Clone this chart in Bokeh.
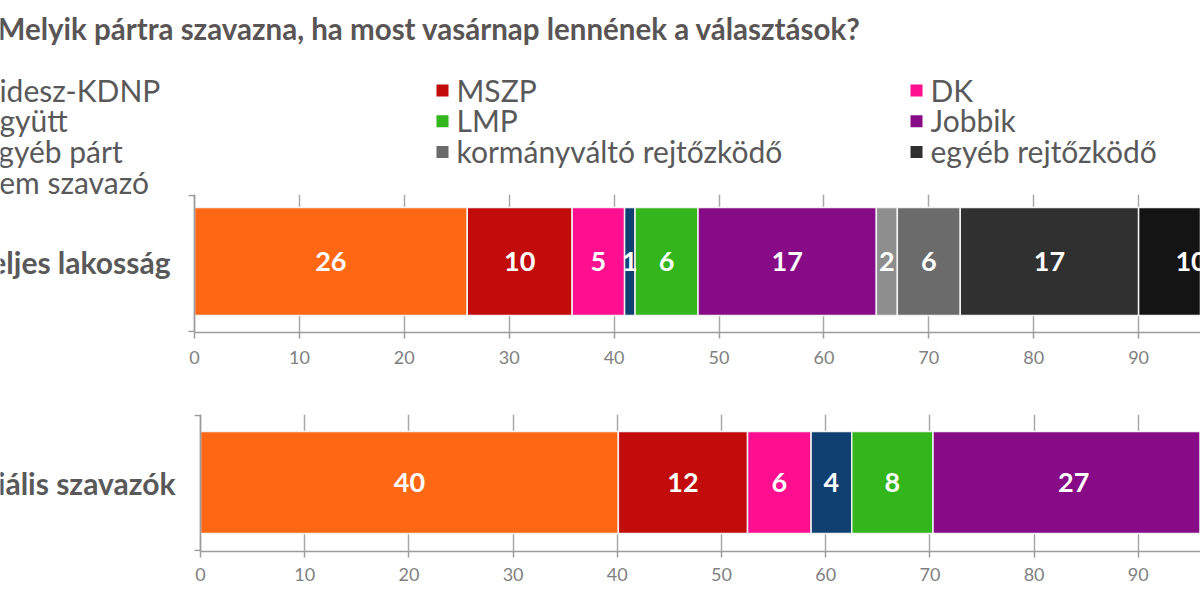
import numpy as np
from bokeh.plotting import figure
from bokeh.layouts import column
from bokeh.models import (Range1d, ColumnDataSource, SingleIntervalTicker, Span)
from bokeh.core.properties import value
from bokeh.embed import file_html
from bokeh.resources import INLINE

# ---------------- data ----------------
title_text = "Melyik pártra szavazna, ha most vasárnap  lennének a választások?"
parties = ["Fidesz-KDNP", "MSZP", "DK", "Együtt", "LMP", "Jobbik",
           "egyéb párt", "kormányváltó rejtőzködő", "egyéb rejtőzködő", "nem szavazó"]
colors = ["#fe6714", "#c20b0b", "#fd0f8f", "#103f72", "#32b61c", "#870a86",
          "#8e8e8e", "#6b6b6b", "#303030", "#141414"]
categories = ["Teljes lakosság", "Potenciális szavazók"]
teljes_lakossag = [26, 10, 5, 1, 6, 17, 2, 6, 17, 10]
potencialis_szavazok = [40.1, 12.4, 6.1, 3.9, 7.8, 27.0, 2.7, 0, 0, 0]
tick_interval = 10
axis_max = 100

W = 1200
FONT = "Lato"
GRAY_TXT = "#595959"
AXIS_GRAY = "#9c9c9c"


def bare_figure(height, xr, yr, **kw):
    p = figure(width=W, height=height, x_range=xr, y_range=yr,
               min_border_left=0, min_border_right=0,
               x_axis_location=kw.pop("x_axis_location", None),
               y_axis_location=None, toolbar_location=None,
               output_backend="svg", outline_line_color=None,
               background_fill_color="white", border_fill_color="white", **kw)
    return p


# ---------------- header: title + legend ----------------
HH = 194
head = bare_figure(HH, Range1d(0, W), Range1d(HH, 0), min_border_top=0,
                   min_border_bottom=0)
head.xgrid.visible = False
head.ygrid.visible = False
head.text(x=[-3], y=[27.5], text=[title_text], text_font=value(FONT),
          text_font_style="bold", text_font_size="29.5px", text_color="#5a5555",
          text_baseline="middle")

col_x0, col_dx, row_y0, row_dy = -18, 474, 89, 30.8
idx = np.arange(len(parties))
tx = col_x0 + (idx % 3) * col_dx
ty = row_y0 + (idx // 3) * row_dy
leg = ColumnDataSource(dict(tx=tx, ty=ty, mx=tx - 14, my=ty + 1,
                            name=parties, color=colors))
head.scatter(x="mx", y="my", marker="square", size=12, color="color",
             line_color=None, source=leg)
head.text(x="tx", y="ty", text="name", source=leg, text_font=value(FONT),
          text_font_size="30px", text_color=GRAY_TXT, text_baseline="middle")


# ---------------- stacked bar charts ----------------
def bar_chart(cat, vals, height, b_top, b_bottom, x0, x1, y0, y1, px_x,
              cat_x, standoff):
    p = bare_figure(height, Range1d(x0, x1), Range1d(y0, y1),
                    x_axis_location="below", min_border_top=b_top,
                    min_border_bottom=b_bottom)
    src = ColumnDataSource({"y": [0], **{n: [v] for n, v in zip(parties, vals)}})
    p.hbar_stack(parties, y="y", height=1, color=colors, source=src,
                 line_color="#f2f2f2", line_width=1.5)

    v = np.array(vals, dtype=float)
    ends = np.cumsum(v)
    centers = ends - v / 2
    m = v > 0
    lab = ColumnDataSource(dict(x=centers[m], y=np.zeros(m.sum()),
                                t=[f"{round(x):d}" for x in v[m]]))
    p.text(x="x", y="y", text="t", source=lab, text_color="white",
           text_font=value(FONT), text_font_style="bold", text_font_size="27px",
           text_align="center", text_baseline="middle")

    ticker = SingleIntervalTicker(interval=tick_interval)
    xa = p.xaxis[0]
    xa.ticker = ticker
    xa.bounds = (0, axis_max)
    xa.axis_line_color = AXIS_GRAY
    xa.axis_line_width = 1.5
    xa.major_tick_line_color = AXIS_GRAY
    xa.major_tick_line_width = 1.5
    xa.major_tick_out = 6
    xa.major_tick_in = 0
    xa.minor_tick_line_color = None
    xa.major_label_text_font = FONT
    xa.major_label_text_font_size = "18px"
    xa.major_label_text_color = "#7f7f7f"
    xa.major_label_standoff = standoff

    g = p.xgrid[0]
    g.ticker = ticker
    g.bounds = (0, axis_max)
    g.grid_line_color = "#a8a8a8"
    g.grid_line_width = 1.5
    p.ygrid.visible = False

    # vertical value axis line at 0 with end ticks
    p.add_layout(Span(location=0, dimension="height", line_color=AXIS_GRAY,
                      line_width=1.5))
    ey = 1.0 / 108
    p.segment(x0=[0, 0], x1=[-6 / px_x, -6 / px_x], y0=[y0 + ey, y1 - ey],
              y1=[y0 + ey, y1 - ey], line_color=AXIS_GRAY, line_width=1.5)

    p.text(x=[cat_x], y=[0], text=[cat], text_font=value(FONT),
           text_font_style="bold", text_font_size="30px", text_color=GRAY_TXT,
           text_align="right", text_baseline="middle")
    return p


top = bar_chart(categories[0], teljes_lakossag, 186, 0, 48,
                -194 / 10.49, (W - 194) / 10.49, -0.657, 0.620, 10.49,
                -2.29, 12)
bot = bar_chart(categories[1], potencialis_szavazok, 220, 34, 49,
                -200 / 10.42, (W - 200) / 10.42, -0.676, 0.667, 10.42,
                -2.4, 10)

layout = column(head, top, bot, spacing=0)
open("out.html", "w").write(file_html(layout, INLINE))
